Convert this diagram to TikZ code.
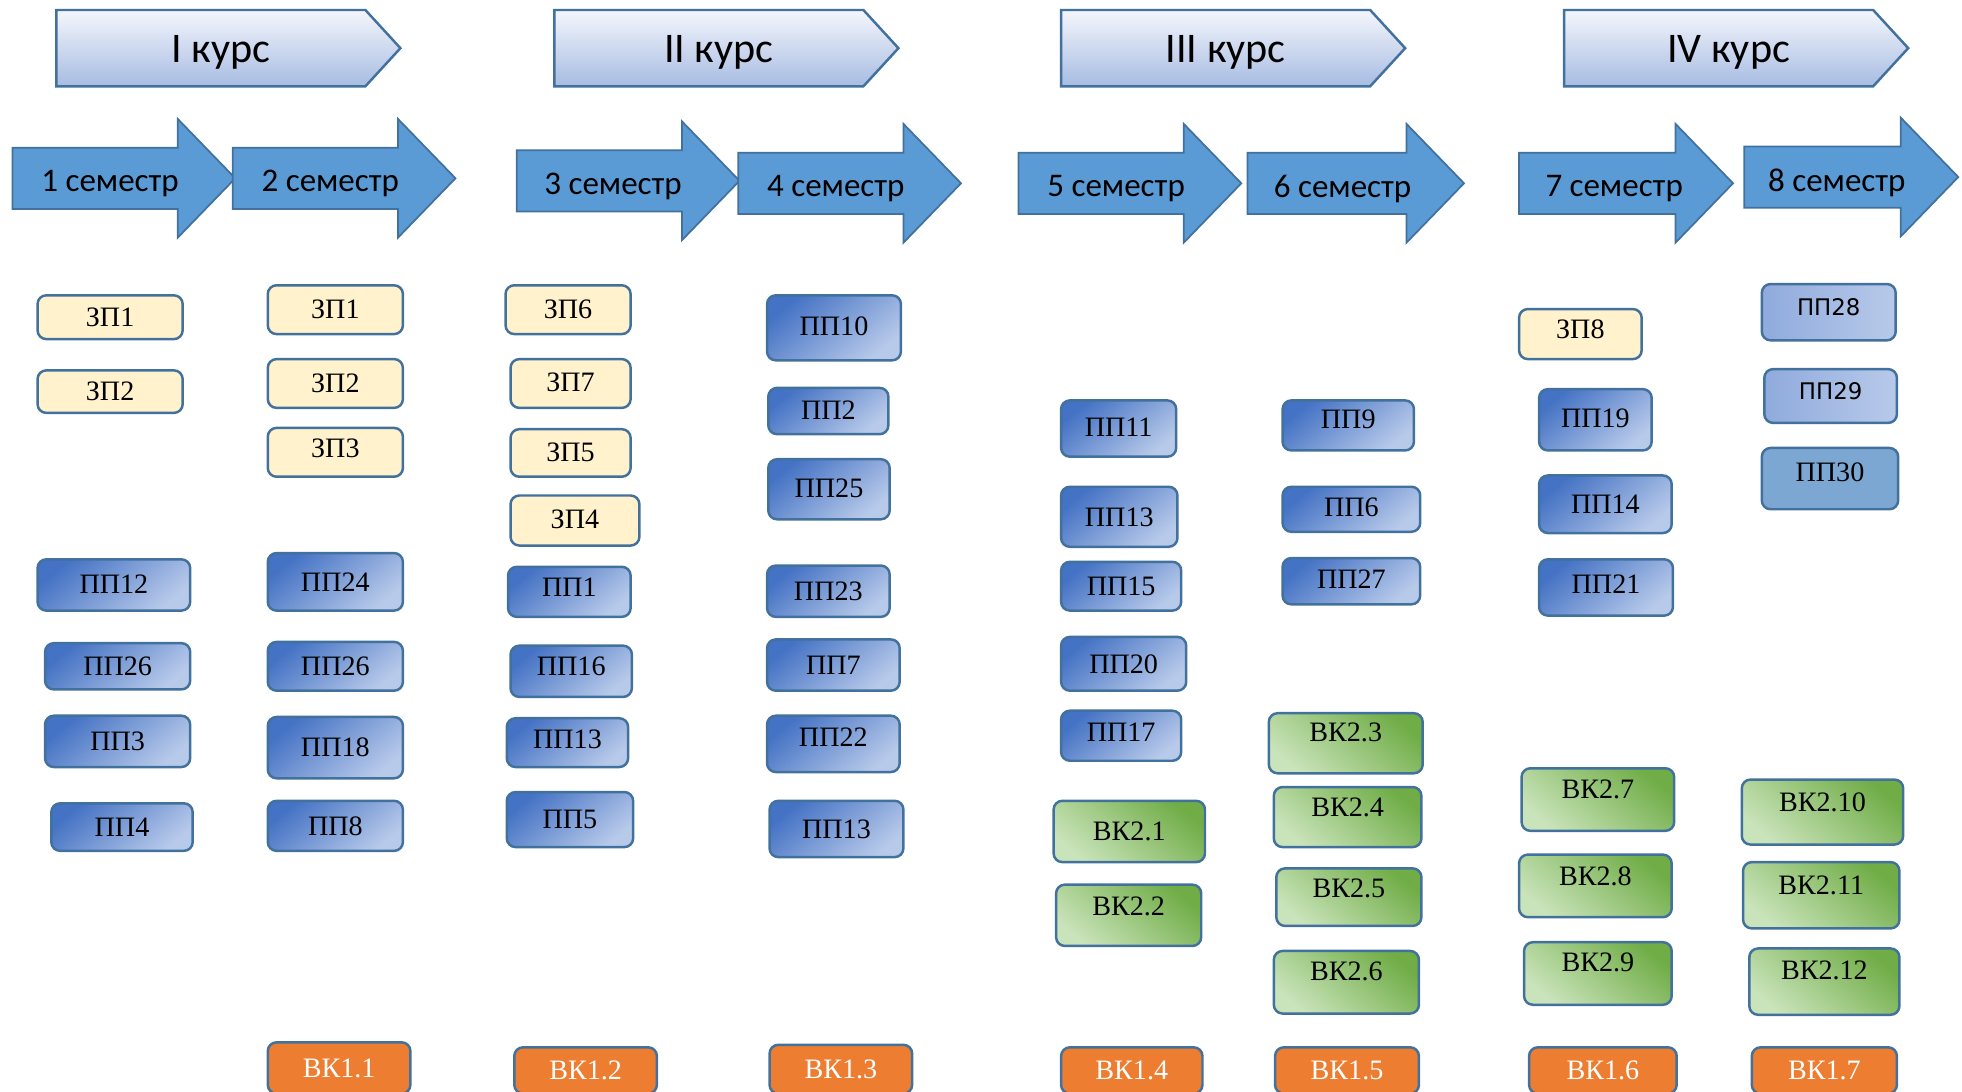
\documentclass[tikz,border=0pt]{standalone}
\usepackage{fontspec}
\setmainfont{Liberation Serif}
\newfontfamily\boxfont{Liberation Serif}
\newfontfamily\headfont{Carlito}
\newfontfamily\roundfont{DejaVu Sans}
\usepackage{tikz}

\definecolor{edge}{HTML}{41719C}
\definecolor{semfill}{HTML}{5B9BD5}
\definecolor{coursetop}{HTML}{F4F6FC}
\definecolor{coursebot}{HTML}{A7BCE2}
\definecolor{zpfill}{HTML}{FFF2CC}
\definecolor{ppdark}{HTML}{4472C4}
\definecolor{pplight}{HTML}{B8CAEA}
\definecolor{ppsoft}{HTML}{8FAADC}
\definecolor{ppflat}{HTML}{7BA7D2}
\definecolor{vkdark}{HTML}{70AD47}
\definecolor{vklight}{HTML}{C9E3BA}
\definecolor{elfill}{HTML}{ED7D31}

\tikzset{
    course/.style={draw=edge, line width=0.7pt, top color=coursetop, bottom color=coursebot},
    sem/.style={draw=edge, line width=0.5pt, fill=semfill},
    span/.style 2 args={minimum width=(#1)*0.12513mm, minimum height=(#2)*0.12513mm},
    box/.style={draw=edge, line width=0.7pt, rounded corners=2.5pt, inner sep=0pt,
                text height=5.3pt, font=\boxfont\fontsize{8}{9}\selectfont},
    zp/.style={box, fill=zpfill},
    pp/.style={box, top color=ppdark, bottom color=pplight, shading angle=40},
    ppl/.style={box, left color=ppsoft, right color=pplight, text height=4.7pt,
                font=\roundfont\fontsize{6.5}{8}\selectfont},
    vk/.style={box, top color=vkdark, bottom color=vklight, shading angle=-40},
    el/.style={box, fill=elfill, text=white}
}

\begin{document}
\begin{tikzpicture}[x=0.12513mm, y=-0.12513mm]
        \clip (0,0) rectangle (1568,872);
        % courses
        \foreach \n/\a/\b/\t in {k1/45/292/I курс, k2/443/690/II курс, k3/848/1095/III курс, k4/1250/1497/IV курс} {
            \draw[course] (\a,8) -- (\b,8) -- ({\b+28},38.5) -- (\b,69) -- (\a,69) -- cycle;
            \node[font=\headfont\fontsize{12}{14}\selectfont] (\n) at ({(\a+\b)/2+8},42) {\t};
        }
        % semesters
        \foreach \n/\x/\y/\l/\tx/\t in {sem1/10/118/132/88/1 семестр, sem2/186/118/132/264/2 семестр,
                                       sem3/413/120/132/490/3 семестр, sem4/590/122/132/668/4 семестр,
                                       sem5/814/122/132/892/5 семестр, sem6/997/122/127/1073/6 семестр,
                                       sem7/1214/122/125/1290/7 семестр, sem8/1394/117/125/1468/8 семестр} {
            \draw[sem] (\x,\y) -- ++(\l,0) -- ++(0,-23) -- ++(46,47.5) -- ++(-46,47.5) -- ++(0,-23) -- ++(-\l,0) -- cycle;
            \node[font=\headfont\fontsize{9.4}{12}\selectfont] (\n) at (\tx,{\y+29}) {\t};
        }
        % ZP boxes (name/text/x1/y1/x2/y2/lift)
        \foreach \n/\t/\a/\b/\c/\d/\u in {s1zp1/ЗП1/30/236/146/271/0, s1zp2/ЗП2/30/296/146/330/0,
                                          s2zp1/ЗП1/214/228/322/267/0, s2zp2/ЗП2/214/287/322/326/0, s2zp3/ЗП3/214/342/322/381/3,
                                          s3zp6/ЗП6/404/228/504/267/0, s3zp7/ЗП7/408/287/504/326/1, s3zp5/ЗП5/408/343/504/381/1,
                                          s3zp4/ЗП4/408/396/511/436/1, s7zp8/ЗП8/1214/247/1312/287/4} {
            \pgfmathsetmacro\dep{0.7112*\u}
            \node[zp, span={\c-\a}{\d-\b}, text depth=\dep pt] (\n) at ({(\a+\c)/2},{(\b+\d)/2}) {\t};
        }
        % PP boxes
        \foreach \n/\t/\a/\b/\c/\d/\u in {s1pp12/ПП12/30/447/152/488/1, s1pp26/ПП26/36/514/152/551/0, s1pp3/ПП3/36/572/152/613/0,
                                          s1pp4/ПП4/41/642/154/680/0,
                                          s2pp24/ПП24/214/442/322/488/0, s2pp26/ПП26/214/513/322/552/0, s2pp18/ПП18/214/573/322/622/0,
                                          s2pp8/ПП8/214/640/322/680/0,
                                          s3pp1/ПП1/406/453/504/493/4, s3pp16/ПП16/408/516/505/557/4, s3pp13/ПП13/405/574/502/613/3,
                                          s3pp5/ПП5/405/633/506/677/0,
                                          s4pp10/ПП10/613/236/720/288/1, s4pp2/ПП2/614/310/710/347/1, s4pp25/ПП25/614/367/711/415/1,
                                          s4pp23/ПП23/613/452/711/493/0, s4pp7/ПП7/613/511/719/552/0, s4pp22/ПП22/613/572/719/617/5,
                                          s4pp13/ПП13/615/640/722/685/0,
                                          s5pp11/ПП11/848/320/940/365/1, s5pp13/ПП13/848/389/941/437/0, s5pp15/ПП15/848/449/944/488/0,
                                          s5pp20/ПП20/848/509/948/552/0, s5pp17/ПП17/848/568/944/608/3,
                                          s6pp9/ПП9/1025/320/1130/360/5, s6pp6/ПП6/1025/389/1135/425/2, s6pp27/ПП27/1025/446/1135/483/2,
                                          s7pp19/ПП19/1230/311/1320/360/1, s7pp14/ПП14/1230/380/1336/426/0, s7pp21/ПП21/1230/447/1337/492/3} {
            \pgfmathsetmacro\dep{0.7112*\u}
            \node[pp, span={\c-\a}{\d-\b}, text depth=\dep pt] (\n) at ({(\a+\c)/2},{(\b+\d)/2}) {\t};
        }
        \node[ppl, span={107}{45}, text depth=2.8pt] (s8pp28) at (1461.5,249.5) {ПП28};
        \node[ppl, span={106}{43}, text depth=2.8pt] (s8pp29) at (1463,316.5) {ПП29};
        \node[box, fill=ppflat, span={109}{49}, text depth=3.5pt] (s8pp30) at (1462.5,382.5) {ПП30};
        % VK2 boxes
        \foreach \n/\t/\a/\b/\c/\d/\u in {s5vk1/ВК2.1/842/640/963/689/0, s5vk2/ВК2.2/844/707/960/756/7,
                                          s6vk3/ВК2.3/1014/570/1137/618/9, s6vk4/ВК2.4/1018/629/1136/677/8,
                                          s6vk5/ВК2.5/1020/694/1136/740/7, s6vk6/ВК2.6/1018/760/1134/810/9,
                                          s7vk7/ВК2.7/1216/614/1338/664/8, s7vk8/ВК2.8/1214/683/1336/733/8, s7vk9/ВК2.9/1218/753/1336/803/9,
                                          s8vk10/ВК2.10/1392/623/1521/675/8, s8vk11/ВК2.11/1393/689/1518/742/8, s8vk12/ВК2.12/1398/758/1518/811/9} {
            \pgfmathsetmacro\dep{0.7112*\u}
            \node[vk, span={\c-\a}{\d-\b}, text depth=\dep pt] (\n) at ({(\a+\c)/2},{(\b+\d)/2}) {\t};
        }
        % VK1 boxes
        \foreach \n/\t/\a/\b/\c in {s2el/ВК1.1/214/833/328, s3el/ВК1.2/411/837/525, s4el/ВК1.3/615/835/729,
                                    s5el/ВК1.4/848/837/961, s6el/ВК1.5/1019/837/1134, s7el/ВК1.6/1222/837/1340,
                                    s8el/ВК1.7/1400/837/1516} {
            \node[el, span={\c-\a}{874-\b}, text depth=0pt] (\n) at ({(\a+\c)/2},{(\b+874)/2}) {\t};
        }
    \end{tikzpicture}
\end{document}
